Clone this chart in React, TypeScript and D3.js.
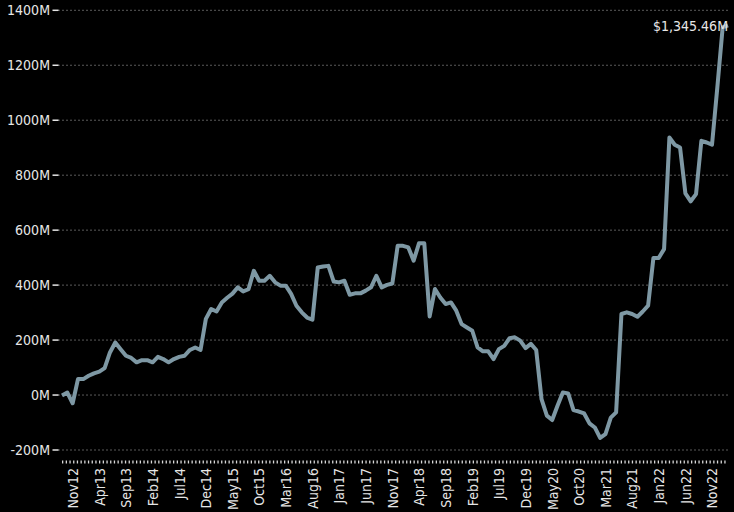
import * as d3 from 'd3';

// monthly values, $M, Nov 2012 .. Apr 2023
const values: number[] = [
  -2, 9, -30, 58, 58, 70, 79, 85, 98, 155, 191, 167, 143, 135, 119, 127, 127, 119, 139, 131,
  119, 131, 139, 143, 164, 173, 164, 277, 313, 304, 337, 354, 369, 392, 377, 385, 452, 416, 416, 434,
  410, 398, 398, 368, 325, 301, 282, 274, 464, 468, 470, 413, 410, 416, 365, 370, 370, 380, 392, 434,
  392, 401, 406, 543, 543, 537, 489, 552, 552, 286, 386, 355, 331, 337, 307, 258, 246, 234, 173, 159,
  159, 131, 167, 179, 207, 210, 198, 171, 186, 164, -15, -75, -91, -39, 9, 6, -55, -60, -67, -103,
  -118, -156, -142, -82, -63, 295, 301, 295, 285, 304, 325, 499, 499, 531, 937, 911, 901, 734, 705, 731,
  925, 919, 911, 1120, 1338, 1345.46
];

const xTickLabels: string[] = [
  'Nov12', 'Apr13', 'Sep13', 'Feb14', 'Jul14', 'Dec14', 'May15', 'Oct15', 'Mar16', 'Aug16',
  'Jan17', 'Jun17', 'Nov17', 'Apr18', 'Sep18', 'Feb19', 'Jul19', 'Dec19', 'May20', 'Oct20',
  'Mar21', 'Aug21', 'Jan22', 'Jun22', 'Nov22'
];

const yTicks: number[] = [-200, 0, 200, 400, 600, 800, 1000, 1200, 1400];

const fmtMonth = d3.timeFormat('%b%y');
const months: string[] = d3
  .timeMonth.range(new Date(2012, 10, 1), new Date(2023, 4, 1))
  .map((d) => fmtMonth(d));

const width = 734;
const height = 512;
const font = '"DejaVu Sans Condensed", "Liberation Sans Narrow", "DejaVu Sans", sans-serif';
const lineColor = '#7e98a4';

function App(): JSX.Element {
  const x = d3.scalePoint<string>().domain(months).range([62, 728]);
  const y = d3.scaleLinear().domain([-200, 1400]).range([450, 10.3]);

  const lineGen = d3
    .line<number>()
    .x((_d, i) => x(months[i]) as number)
    .y((d) => y(d));

  const last = values[values.length - 1];

  return (
    <svg
      width={width}
      height={height}
      style={{ position: 'absolute', left: 0, top: 0, background: '#000', fontFamily: font }}
    >
      <rect width={width} height={height} fill="#000" />

      {/* y grid + ticks */}
      {yTicks.map((t) => (
        <g key={t}>
          <line x1={58} x2={728} y1={y(t)} y2={y(t)} stroke="#5a5a5a" strokeDasharray="2,2" />
          <line x1={52.5} x2={58.5} y1={y(t)} y2={y(t)} stroke="#e6e6e6" strokeWidth={1.5} />
          <text x={50} y={y(t)} dy="0.36em" textAnchor="end" fill="#e6e6e6" fontSize={14}>
            {`${t}M`}
          </text>
        </g>
      ))}

      {/* x axis dotted line */}
      <line x1={62} x2={728} y1={462} y2={462} stroke="#d8d8d8" strokeWidth={3} strokeDasharray="1.3,2.4" />

      {xTickLabels.map((lbl) => (
        <text
          key={lbl}
          transform={`translate(${(x(lbl) as number) + 16},468) rotate(-90)`}
          textAnchor="end"
          fill="#e6e6e6"
          fontSize={14}
        >
          {lbl}
        </text>
      ))}

      <path
        d={lineGen(values) ?? ''}
        fill="none"
        stroke={lineColor}
        strokeWidth={4}
        strokeLinejoin="round"
        strokeLinecap="butt"
      />

      <text x={728} y={y(last) + 6} textAnchor="end" fill="#e6e6e6" fontSize={14}>
        {`$${d3.format(',.2f')(last)}M`}
      </text>
    </svg>
  );
}

export default App;
